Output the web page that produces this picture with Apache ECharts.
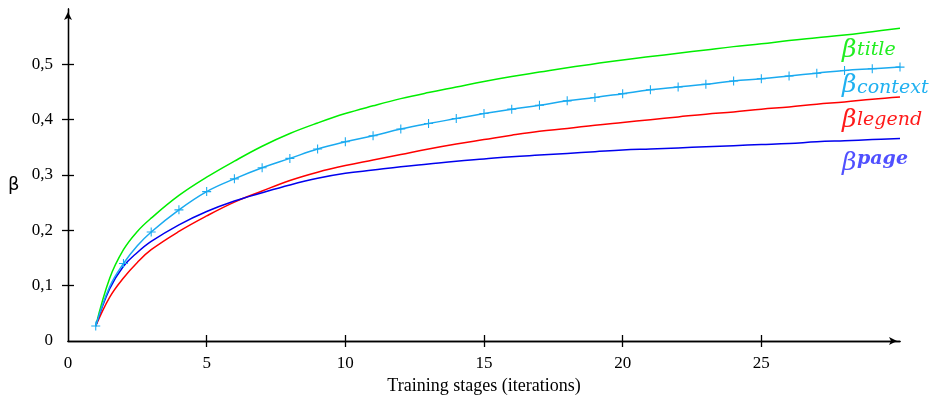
<!DOCTYPE html>
<html>
<head>
<meta charset="utf-8">
<script src="https://cdn.jsdelivr.net/npm/echarts@6/dist/echarts.min.js"></script>
<style>
  html, body { margin: 0; padding: 0; background: #fff; }
  #main { width: 939px; height: 403px; }
</style>
</head>
<body>
<div id="main"></div>
<script>
// training stage of each sample (extra readings at 1.5 and 2.5 where curves bend hard)
var stages = [1, 1.5, 2, 2.5, 3, 4, 5, 6, 7, 8, 9, 10, 11, 12, 13, 14, 15,
              16, 17, 18, 19, 20, 21, 22, 23, 24, 25, 26, 27, 28, 29, 30];

var betaTitle = [0.027, 0.113, 0.165, 0.198, 0.222, 0.263, 0.296, 0.325, 0.352, 0.375, 0.394, 0.411,
                 0.425, 0.438, 0.449, 0.459, 0.469, 0.478, 0.486, 0.494, 0.501, 0.508,
                 0.514, 0.520, 0.526, 0.532, 0.537, 0.543, 0.548, 0.553, 0.559, 0.565];
var betaContext = [0.027, 0.098, 0.140, 0.172, 0.197, 0.237, 0.270, 0.293, 0.313, 0.330, 0.347, 0.360,
                   0.371, 0.383, 0.393, 0.402, 0.411, 0.419, 0.426, 0.434, 0.440, 0.447,
                   0.454, 0.459, 0.464, 0.470, 0.474, 0.479, 0.484, 0.489, 0.492, 0.495];
var betaLegend = [0.027, 0.079, 0.114, 0.142, 0.165, 0.198, 0.226, 0.251, 0.271, 0.290, 0.305, 0.317,
                  0.327, 0.337, 0.347, 0.356, 0.364, 0.372, 0.379, 0.384, 0.390, 0.395,
                  0.400, 0.405, 0.410, 0.414, 0.419, 0.423, 0.428, 0.432, 0.437, 0.441];
var betaPage = [0.027, 0.094, 0.135, 0.160, 0.180, 0.210, 0.234, 0.253, 0.268, 0.282, 0.294, 0.303,
                0.309, 0.315, 0.320, 0.325, 0.329, 0.333, 0.336, 0.339, 0.342, 0.345,
                0.347, 0.349, 0.351, 0.353, 0.355, 0.357, 0.360, 0.362, 0.364, 0.366];

var xTicks = [0, 5, 10, 15, 20, 25];
var yTicks = [0, 0.1, 0.2, 0.3, 0.4, 0.5];

var serif = '"Liberation Serif", "DejaVu Serif", serif';
var mathFont = '"DejaVu Serif", serif';

function pairs(vals, marks) {
    return stages.map(function (x, i) {
        var item = { value: [x, vals[i]] };
        // crosses only on whole stages
        if (marks && x % 1 !== 0) item.symbol = 'none';
        return item;
    });
}

// a filled "+" so the marks look like pgfplots crosses
var plusMark = 'path://M-0.6,-5L0.6,-5L0.6,-0.6L5,-0.6L5,0.6L0.6,0.6L0.6,5L-0.6,5L-0.6,0.6L-5,0.6L-5,-0.6L-0.6,-0.6Z';

function betaLabel(sub, color, x, yBeta, ySub, bold) {
    return [
        {
            type: 'text', x: x, y: yBeta,
            style: { text: 'β', fill: color, font: 'italic 25px ' + mathFont, verticalAlign: 'middle' }
        },
        {
            type: 'text', x: x + 15, y: ySub,
            style: { text: sub, fill: color, font: 'italic ' + (bold ? 'bold ' : '') + '19px ' + mathFont, verticalAlign: 'middle' }
        }
    ];
}

var tickLine = { color: '#000', width: 1.3 };
var gridBox = { left: 68, right: 39, top: 9, bottom: 62 };
var gridW = 939 - gridBox.left - gridBox.right;
var gridH = 403 - gridBox.top - gridBox.bottom;

var chart = echarts.init(document.getElementById('main'));

var option = {
    animation: false,
    backgroundColor: '#fff',
    grid: gridBox,
    xAxis: [
        {
            type: 'value', min: 0, max: 30,
            name: 'Training stages (iterations)',
            nameLocation: 'middle', nameGap: 35,
            nameTextStyle: { fontFamily: serif, fontSize: 18, color: '#000' },
            splitLine: { show: false },
            axisLine: { onZero: false, lineStyle: tickLine, symbol: ['none', 'arrow'], symbolSize: [6, 8], symbolOffset: [0, -3] },
            axisTick: { length: 6, lineStyle: tickLine, customValues: xTicks.slice(1) },
            axisLabel: { customValues: xTicks, margin: 14, color: '#000', fontFamily: serif, fontSize: 17 }
        },
        {
            // top-side twin pulled down onto the bottom line: its outward ticks give the upper halves
            type: 'value', min: 0, max: 30, position: 'top', offset: -gridH,
            splitLine: { show: false },
            axisLine: { onZero: false, show: true, lineStyle: { color: '#000', width: 1.3 } },
            axisTick: { show: true, length: 6, lineStyle: tickLine, customValues: xTicks.slice(1) },
            axisLabel: { show: false }
        }
    ],
    yAxis: [
        {
            type: 'value', min: 0, max: 0.6,
            splitLine: { show: false },
            axisLine: { onZero: false, lineStyle: tickLine, symbol: ['none', 'arrow'], symbolSize: [6, 8], symbolOffset: [0, -3] },
            axisTick: { length: 6, lineStyle: tickLine, customValues: yTicks.slice(1) },
            axisLabel: {
                customValues: yTicks, margin: 15, color: '#000', fontFamily: serif, fontSize: 17,
                formatter: function (v) { return String(Math.round(v * 10) / 10).replace('.', ','); }
            }
        },
        {
            type: 'value', min: 0, max: 0.6, position: 'right', offset: -gridW,
            splitLine: { show: false },
            axisLine: { onZero: false, show: true, lineStyle: { color: '#000', width: 1.3 } },
            axisTick: { show: true, length: 6, lineStyle: tickLine, customValues: yTicks.slice(1) },
            axisLabel: { show: false }
        }
    ],
    graphic: [
        {
            type: 'text', x: 8, y: 185,
            style: { text: 'β', fill: '#000', font: '18px "DejaVu Sans", sans-serif', verticalAlign: 'middle' }
        }
    ].concat(
        betaLabel('title', '#22ee22', 842, 50, 50, false),
        betaLabel('context', '#1fb0f0', 842, 85, 88, false),
        betaLabel('legend', '#ff1a1a', 842, 120, 120, false),
        betaLabel('page', '#5050ff', 842, 163, 159, true)
    ),
    series: [
        {
            name: 'title', type: 'line', data: pairs(betaTitle), smooth: 0.4,
            showSymbol: false, lineStyle: { color: '#00ee00', width: 1.5 }, itemStyle: { color: '#00ee00' }
        },
        {
            // drawn on the twin axes (same scale) so they stay in use
            name: 'legend', type: 'line', data: pairs(betaLegend), smooth: 0.4,
            xAxisIndex: 1, yAxisIndex: 1,
            showSymbol: false, lineStyle: { color: '#ff0000', width: 1.5 }, itemStyle: { color: '#ff0000' }
        },
        {
            name: 'page', type: 'line', data: pairs(betaPage), smooth: 0.4,
            showSymbol: false, lineStyle: { color: '#0000ee', width: 1.5 }, itemStyle: { color: '#0000ee' }
        },
        {
            name: 'context', type: 'line', data: pairs(betaContext, true), smooth: 0.4,
            symbol: plusMark, symbolSize: 9, showAllSymbol: true,
            lineStyle: { color: '#1aaaf0', width: 1.5 }, itemStyle: { color: '#1aaaf0' }
        }
    ]
};

chart.setOption(option);
</script>
</body>
</html>
